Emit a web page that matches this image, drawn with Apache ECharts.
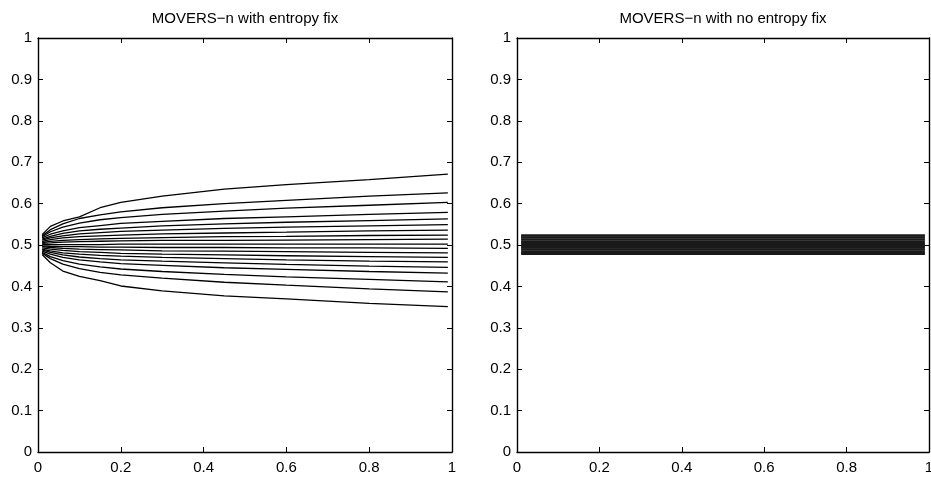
<!DOCTYPE html>
<html>
<head>
<meta charset="utf-8">
<script src="https://cdn.jsdelivr.net/npm/echarts@6/dist/echarts.min.js"></script>
<style>
html,body{margin:0;padding:0;background:#fff;}
#chart{width:931px;height:479px;}
</style>
</head>
<body>
<div id="chart"></div>
<script>
// ---- data ----
const titles = ['MOVERS\u2212n with entropy fix', 'MOVERS\u2212n with no entropy fix'];
const xTicks = [0, 0.2, 0.4, 0.6, 0.8, 1];
const yTicks = [0, 0.1, 0.2, 0.3, 0.4, 0.5, 0.6, 0.7, 0.8, 0.9, 1];

// x positions of the sampled contour points (left panel)
const xGrid = [0.01, 0.03, 0.06, 0.1, 0.15, 0.2, 0.3, 0.45, 0.6, 0.8, 0.99];

// contour lines of the left panel (top to bottom), y at each xGrid point
const c01 = [0.525, 0.545, 0.558, 0.568, 0.590, 0.603, 0.618, 0.635, 0.646, 0.658, 0.671];
const c02 = [0.522, 0.537, 0.551, 0.564, 0.573, 0.580, 0.590, 0.600, 0.608, 0.618, 0.626];
const c03 = [0.520, 0.532, 0.543, 0.553, 0.561, 0.566, 0.574, 0.582, 0.589, 0.596, 0.603];
const c04 = [0.517, 0.526, 0.534, 0.542, 0.547, 0.552, 0.557, 0.564, 0.568, 0.574, 0.579];
const c05 = [0.514, 0.521, 0.528, 0.534, 0.538, 0.541, 0.546, 0.551, 0.555, 0.559, 0.563];
const c06 = [0.512, 0.517, 0.522, 0.527, 0.530, 0.533, 0.536, 0.540, 0.543, 0.546, 0.549];
const c07 = [0.509, 0.513, 0.517, 0.520, 0.522, 0.524, 0.527, 0.529, 0.531, 0.534, 0.536];
const c08 = [0.506, 0.509, 0.511, 0.513, 0.515, 0.516, 0.518, 0.520, 0.521, 0.523, 0.524];
const c09 = [0.504, 0.505, 0.507, 0.508, 0.509, 0.510, 0.511, 0.511, 0.512, 0.513, 0.514];
const c10 = [0.501, 0.501, 0.501, 0.501, 0.501, 0.502, 0.502, 0.502, 0.502, 0.502, 0.502];
const c11 = [0.498, 0.497, 0.496, 0.496, 0.495, 0.495, 0.494, 0.494, 0.493, 0.493, 0.492];
const c12 = [0.496, 0.494, 0.492, 0.490, 0.489, 0.488, 0.486, 0.485, 0.484, 0.482, 0.481];
const c13 = [0.493, 0.490, 0.487, 0.484, 0.482, 0.480, 0.478, 0.476, 0.474, 0.472, 0.470];
const c14 = [0.490, 0.486, 0.481, 0.478, 0.475, 0.473, 0.470, 0.467, 0.464, 0.461, 0.459];
const c15 = [0.488, 0.482, 0.476, 0.471, 0.467, 0.464, 0.461, 0.457, 0.453, 0.449, 0.446];
const c16 = [0.485, 0.478, 0.470, 0.464, 0.459, 0.455, 0.451, 0.445, 0.441, 0.436, 0.432];
const c17 = [0.482, 0.472, 0.462, 0.454, 0.447, 0.442, 0.436, 0.429, 0.423, 0.417, 0.411];
const c18 = [0.480, 0.467, 0.454, 0.443, 0.434, 0.428, 0.420, 0.410, 0.403, 0.394, 0.387];
const c19 = [0.477, 0.457, 0.437, 0.424, 0.414, 0.401, 0.389, 0.377, 0.370, 0.359, 0.351];
const leftContours = [c01,c02,c03,c04,c05,c06,c07,c08,c09,c10,c11,c12,c13,c14,c15,c16,c17,c18,c19];

// right panel: horizontal contour levels spanning the grid extent
const rightExtent = [0.01, 0.99];
const rightLevels = [0.524, 0.522, 0.519, 0.517, 0.514, 0.512, 0.509, 0.506, 0.504, 0.501,
                     0.498, 0.496, 0.493, 0.490, 0.488, 0.485, 0.482, 0.480, 0.478];

// ---- chart ----
const FONT = '"Liberation Sans", Arial, Helvetica, sans-serif';
const grids = [
  {left: 38, top: 38, width: 414, height: 414, outerBoundsMode: 'none', containLabel: false},
  {left: 517, top: 38, width: 412, height: 414, outerBoundsMode: 'none', containLabel: false}
];

function xAx(gi, pos) {
  return {
    type: 'value', gridIndex: gi, position: pos, min: 0, max: 1, interval: 0.2,
    axisLine: {show: true, onZero: false, lineStyle: {color: '#000', width: 1.4}},
    axisTick: {show: true, inside: true, length: 5, lineStyle: {color: '#000', width: 1}},
    axisLabel: {show: pos === 'bottom', color: '#000', fontSize: 15, fontFamily: FONT, margin: 8,
                hideOverlap: false, formatter: v => String(+v.toFixed(1))},
    splitLine: {show: false}
  };
}
function yAx(gi, pos) {
  return {
    type: 'value', gridIndex: gi, position: pos, min: 0, max: 1, interval: 0.1,
    axisLine: {show: true, onZero: false, lineStyle: {color: '#000', width: 1.4}},
    axisTick: {show: true, inside: true, length: 5, lineStyle: {color: '#000', width: 1}},
    axisLabel: {show: pos === 'left', color: '#000', fontSize: 15, fontFamily: FONT, margin: 6,
                formatter: v => String(+v.toFixed(1))},
    splitLine: {show: false}
  };
}

const series = [];
leftContours.forEach(c => {
  series.push({
    type: 'line', xAxisIndex: 0, yAxisIndex: 0, showSymbol: false, silent: true,
    lineStyle: {color: '#000', width: 1.3},
    data: xGrid.map((x, i) => [x, c[i]])
  });
});
rightLevels.forEach(y => {
  series.push({
    type: 'line', xAxisIndex: 2, yAxisIndex: 2, showSymbol: false, silent: true,
    lineStyle: {color: '#1a1a1a', width: 1.6},
    data: rightExtent.map(x => [x, y])
  });
});

const chart = echarts.init(document.getElementById('chart'), null, {renderer: 'canvas'});
chart.setOption({
  animation: false,
  backgroundColor: '#fff',
  grid: grids,
  xAxis: [xAx(0, 'bottom'), xAx(0, 'top'), xAx(1, 'bottom'), xAx(1, 'top')],
  yAxis: [yAx(0, 'left'), yAx(0, 'right'), yAx(1, 'left'), yAx(1, 'right')],
  graphic: titles.map((t, i) => ({
    type: 'text',
    x: grids[i].left + grids[i].width / 2,
    y: 19,
    style: {text: t, fill: '#000', font: '15px ' + FONT, textAlign: 'center', textVerticalAlign: 'middle'}
  })),
  series: series
});
</script>
</body>
</html>
